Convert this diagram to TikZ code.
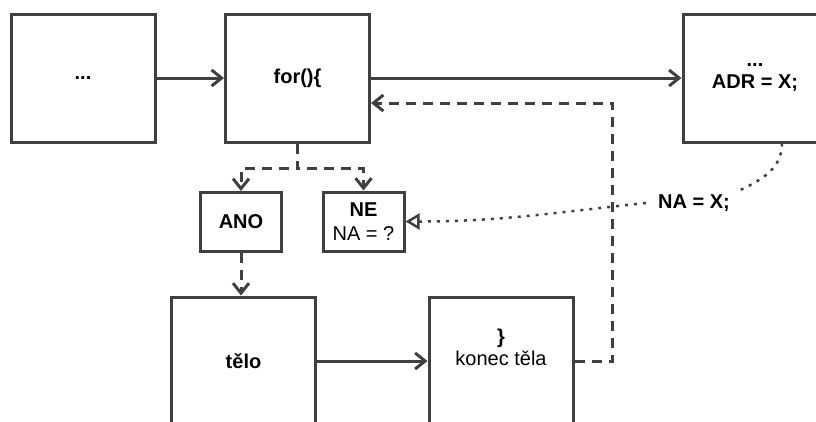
\documentclass[tikz,border=0pt]{standalone}
\usepackage{fontspec}
\setmainfont{Liberation Sans}
\usetikzlibrary{arrows.meta}

\newcommand{\diagfont}{\fontsize{20}{22}\selectfont}

\begin{document}
\begin{tikzpicture}[x=1pt, y=-1pt,
  box/.style={draw=linecol, line width=3pt, minimum width=144pt, minimum height=128pt,
    align=center, font=\diagfont\bfseries},
  smallbox/.style={draw=linecol, line width=3pt, minimum width=81pt, minimum height=59pt,
    align=center, font=\diagfont},
  pfeil/.style={draw=linecol, line width=3pt, -{Straight Barb[length=10pt,width=16pt]}},
  strich/.style={dash pattern=on 10pt off 7pt},
  tecky/.style={draw=linecol, line width=2.5pt, dash pattern=on 3pt off 6pt}]

  % --- Farben ---
  \definecolor{linecol}{HTML}{404040}

  \useasboundingbox (0,0) rectangle (816,421);

  % --- Bloky ---
  \node[box] (start)  at (83,78)    {...};
  \node[box] (forbox) at (297.5,78) {for()\{};
  \node[box] (adrbox) at (755,78)   {...\\ADR = X;};

  \node[smallbox, font=\diagfont\bfseries] (ano) at (241,222) {ANO};
  \node[smallbox] (ne) at (363.5,221.5) {\textbf{NE}\\[2pt]NA = ?};

  \node[box] (telo)  at (243.5,361) {tělo};
  \node[box, label={[font=\diagfont, align=center, yshift=14pt]center:{\textbf{\}}\\konec těla}}]
    (konec) at (501,361) {};

  \node[font=\diagfont\bfseries, inner xsep=12pt] (nax) at (694,203) {NA = X;};

  % --- Spojnice ---
  \draw[pfeil] (start) -- (forbox);
  \draw[pfeil] (forbox) -- (adrbox);
  \draw[pfeil, strich] (forbox.south) -- ++(0,25) -| (ano.north);
  \draw[pfeil, strich] (forbox.south) -- ++(0,25) -| (ne.north);
  \draw[pfeil, strich] (ano.south) -- (ano.south |- telo.north);
  \draw[pfeil] (telo) -- (konec);
  % navrat na zacatek cyklu
  \draw[pfeil, strich] (konec.east) -- ++(38,0) |- ([yshift=-25pt]forbox.east);

  % --- Prirazeni ---
  \draw[tecky] ([xshift=27pt]adrbox.south) to[out=-90, in=25] ([xshift=-4pt]nax.north east);
  \draw[tecky, -{Triangle[open, length=14pt, width=16pt, line width=2.5pt]}]
    (nax.west) to[out=186, in=0] (ne.east);

\end{tikzpicture}
\end{document}
